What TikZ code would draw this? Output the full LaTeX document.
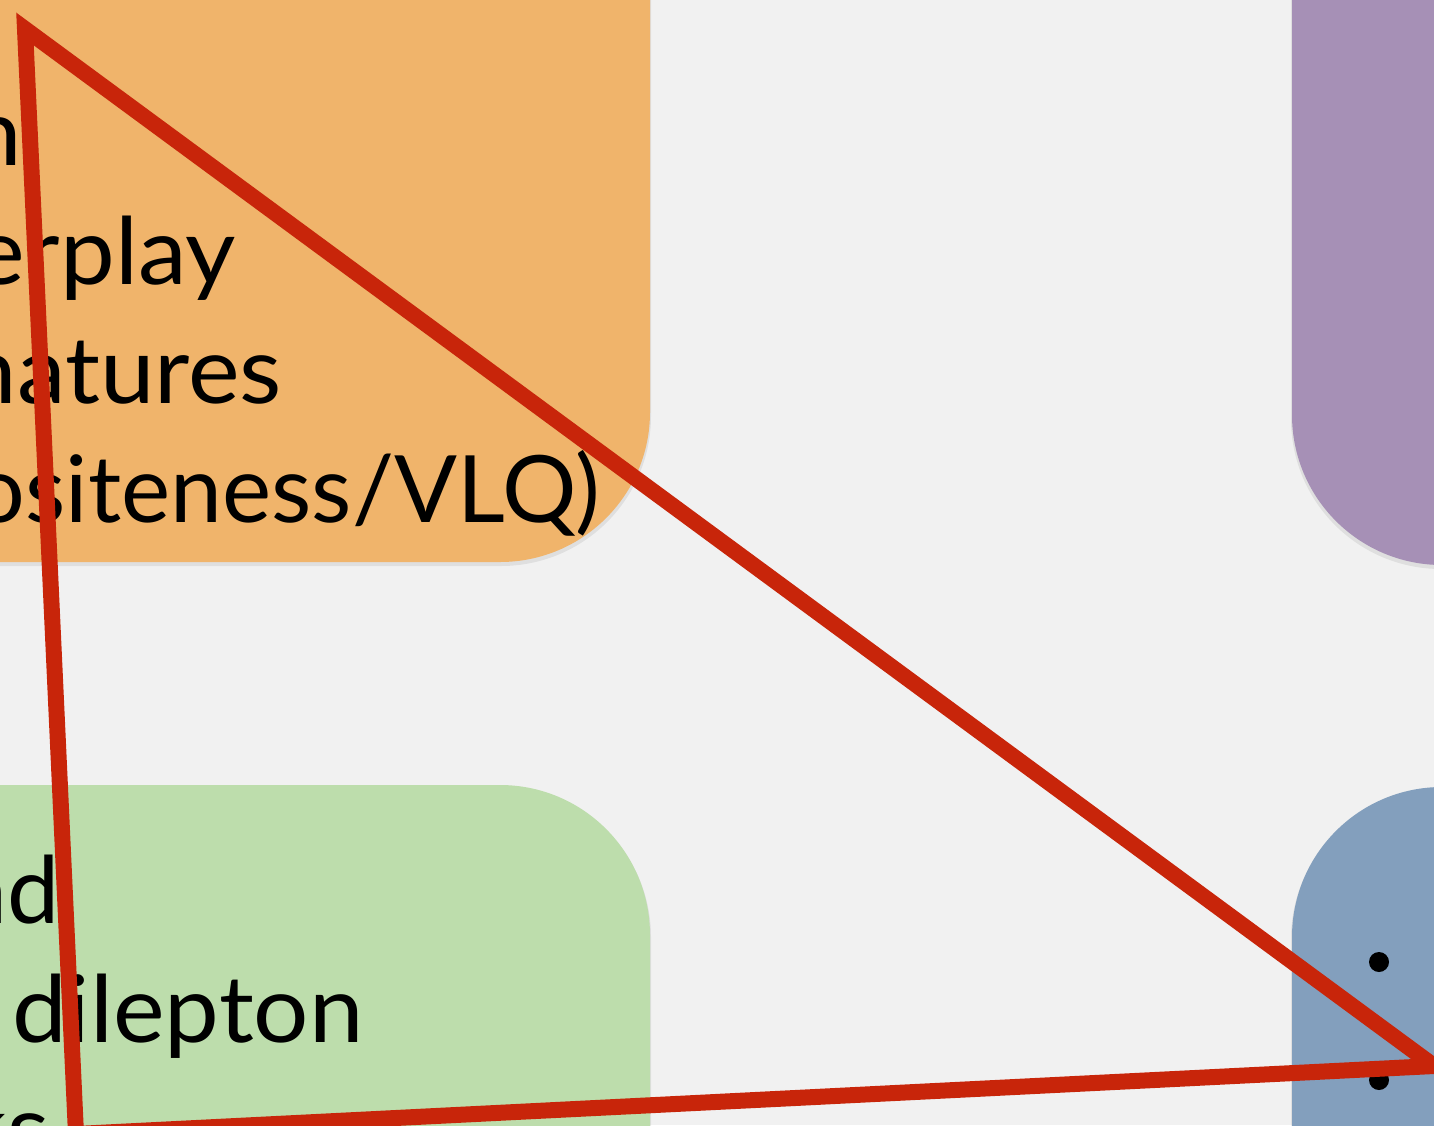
\documentclass[tikz,border=0pt]{standalone}
\usepackage{fontspec}
\setmainfont[FakeStretch=1.05]{Lato}
\newfontfamily\latonarrow{Lato}
\definecolor{bgc}{HTML}{F1F1F1}
\definecolor{orangebox}{HTML}{F0B46B}
\definecolor{purplebox}{HTML}{A690B6}
\definecolor{greenbox}{HTML}{BDDDAC}
\definecolor{bluebox}{HTML}{839FBD}
\definecolor{redtri}{HTML}{C8250A}
\begin{document}
\begin{tikzpicture}[x=1pt,y=-1pt,
  panel/.style={rounded corners=150pt},
  shade/.style={fill=black,opacity=0.07,rounded corners=150pt},
  lbl/.style={anchor=base east,inner sep=0pt,text=black,font=\fontsize{93}{119}\selectfont},
  lbln/.style={lbl,font=\fontsize{93}{119}\latonarrow},
  lbll/.style={anchor=base west,inner sep=0pt,text=black,font=\fontsize{93}{119}\selectfont},
  dotb/.style={circle,fill=black,inner sep=0pt,minimum size=20pt},
  tri/.style={draw=redtri,line width=16pt,line join=miter,miter limit=20}]
\useasboundingbox (0,0) rectangle (1434,1125);
\clip (0,0) rectangle (1434,1125);
\fill[bgc] (0,0) rectangle (1434,1125);
% shadows
\fill[shade] (-400,-400) rectangle (651,566);
\fill[shade] (1291,-400) rectangle (1900,569);
\fill[shade] (-400,787) rectangle (651,1600);
\fill[shade] (1291,789) rectangle (1900,1600);
% panels
\fill[orangebox,panel] (-400,-400) rectangle (650,562);
\fill[purplebox,panel] (1292,-400) rectangle (1900,565);
\fill[greenbox,panel] (-400,785) rectangle (650,1600);
\fill[bluebox,panel] (1292,787) rectangle (1900,1600);
% orange texts
\node[lbl] (o1) at (3,46) {s};
\node[lbl] (o2) at (22,165) {n};
\node[lbl] (o3) at (236,284) {erplay};
\node[lbl] (o4) at (282,403) {natures};
\node[lbln] (o5) at (600,522) {ositeness/VLQ)};
% green texts
\node[lbln] (g1) at (60,923) {nd};
\node[lbll] (g2) at (12,1042) {dilepton};
\node[lbl] (g3) at (50,1161) {ks};
% blue bullets
\node[dotb] (b1) at (1379,962) {};
\node[dotb] (b2) at (1379,1080) {};
% triangle
\coordinate (ta) at (25,29);
\coordinate (tb) at (1434,1066);
\coordinate (tc) at (76,1134);
\draw[tri] (ta) -- (tb) -- (tc) -- cycle;
\end{tikzpicture}
\end{document}
